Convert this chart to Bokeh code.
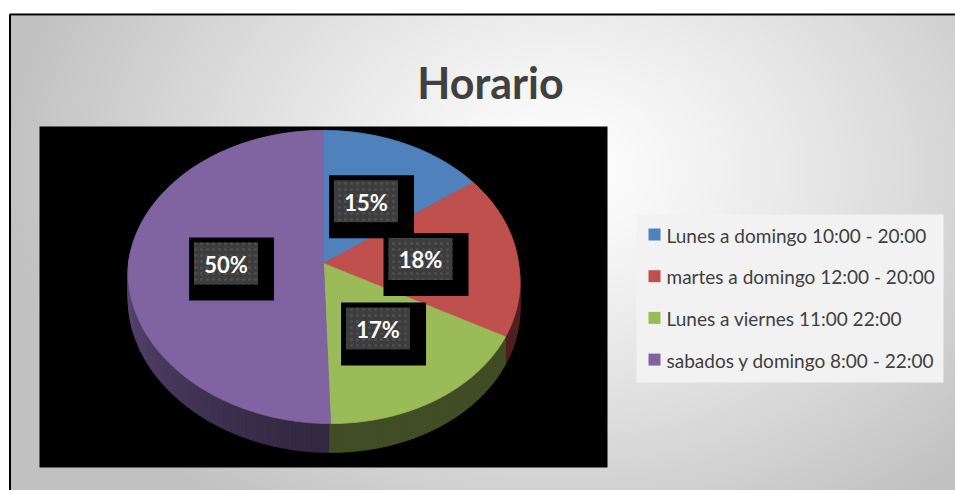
import numpy as np
from bokeh.plotting import figure
from bokeh.models import Range1d
from bokeh.core.properties import value
from bokeh.embed import file_html
from bokeh.resources import INLINE

# ---------------- data ----------------
title_text = "Horario"
categories = [
    "Lunes a domingo 10:00 - 20:00",
    "martes a domingo 12:00 - 20:00",
    "Lunes a viernes 11:00 22:00",
    "sabados y domingo 8:00 - 22:00",
]
values = [15, 18, 17, 50]
colors = ["#4F81BD", "#C0504D", "#9BBB59", "#8064A2"]

# ---------------- layout helpers (screen px) ----------------
W, H = 955, 490
TOP_PX = H  # screen y of the data y = 0


def Y(sy):
    return TOP_PX - np.asarray(sy, dtype=float)


p = figure(width=W, height=H, x_range=Range1d(0, W), y_range=Range1d(0, H),
           output_backend="svg", toolbar_location=None, min_border=0)
p.axis.visible = False
p.grid.visible = False
p.outline_line_color = None
p.background_fill_color = "white"
p.border_fill_color = "white"

# slide background gradient
x0s, y0s = 10, 15
nx, ny = W - x0s, H - y0s
gx = np.arange(nx) + x0s + 0.5
gy = H - (np.arange(ny) + 0.5)  # row 0 is bottom
GX, GY = np.meshgrid(gx, gy)
d = np.sqrt(((GX - 560) / 560.0) ** 2 + ((GY - 170) / 420.0) ** 2)
v = (255 - 62 * np.clip(d, 0, 1) ** 1.2).astype(np.uint8)
img = np.empty((ny, nx), dtype=np.uint32)
view = img.view(dtype=np.uint8).reshape((ny, nx, 4))
view[..., 0] = v
view[..., 1] = v
view[..., 2] = v
view[..., 3] = 255
p.image_rgba(image=[img], x=x0s, y=Y(H), dw=nx, dh=ny)

# frame
p.line(x=[9.5, 9.5, W], y=Y([H, 14, 14]), line_color="black", line_width=2)

# black chart area
p.quad(left=39, right=607, top=Y(126), bottom=Y(467), fill_color="black", line_color=None)

# ---------------- 3D pie ----------------
CX, CY = 323.0, 263.0
RX, RY = 195.0, 145.3
PERSP = 0.0922
THICK = 26.3
SHEAR = 0.044


def proj(theta_deg, r=1.0, drop=0.0):
    t = np.radians(np.asarray(theta_deg, dtype=float))
    f = 1 + PERSP * r * np.cos(t)
    dx = RX * r * np.sin(t) / f
    dy = -RY * r * np.cos(t) / f
    x = CX + dx + SHEAR * np.maximum(dy, 0)
    y = CY + dy + drop / f
    return x, y


def shade(hexcol, k):
    hexcol = hexcol.lstrip("#")
    r, g, b = (int(hexcol[i:i + 2], 16) for i in (0, 2, 4))
    return "#%02x%02x%02x" % (int(r * k), int(g * k), int(b * k))


total = float(sum(values))
cum = np.concatenate([[0], np.cumsum(values)]) * 360.0 / total

# side walls (painter's order: far to near)
side_xs, side_ys, side_cols, side_depth = [], [], [], []
for i in range(len(values)):
    a0, a1 = cum[i], cum[i + 1]
    steps = np.arange(a0, a1, 1.0)
    for s in steps:
        e = min(s + 1.0, a1)
        th = np.linspace(s, e + 0.3, 3)
        tx, ty = proj(th)
        bx, by = proj(th[::-1], drop=THICK)
        mid = (s + e) / 2.0
        if 180 <= mid <= 270:
            k = 0.40 + 0.35 * ((mid - 180) / 90.0) ** 1.3
        elif mid > 270:
            k = 0.75
        else:
            k = 0.42
        side_xs.append(list(np.concatenate([tx, bx])))
        side_ys.append(list(Y(np.concatenate([ty, by]))))
        side_cols.append(shade(colors[i], k))
        side_depth.append(np.cos(np.radians(mid)))
order = np.argsort(side_depth)[::-1]
p.patches(xs=[side_xs[j] for j in order], ys=[side_ys[j] for j in order],
          fill_color=[side_cols[j] for j in order], line_color=[side_cols[j] for j in order],
          line_width=0.6)

# top face
top_xs, top_ys = [], []
for i in range(len(values)):
    th = np.linspace(cum[i], cum[i + 1], max(int((cum[i + 1] - cum[i]) * 2), 4))
    ex, ey = proj(th)
    top_xs.append([CX] + list(ex))
    top_ys.append(list(Y([CY] + list(ey))))
p.patches(xs=top_xs, ys=top_ys, fill_color=colors, line_color=colors, line_width=0.8)

# data labels (placed at half radius on each slice's mid-angle)
lx, ly, ltxt = [], [], []
for i in range(len(values)):
    mid = (cum[i] + cum[i + 1]) / 2.0
    tx, ty = proj(mid, r=0.5)
    lx.append(float(tx))
    ly.append(float(ty))
    ltxt.append("%d%%" % round(values[i] * 100 / total))
lx = np.array(lx)
ly = np.array(ly)
p.quad(left=lx - 37, right=lx + 48, top=Y(ly - 26), bottom=Y(ly + 37),
       fill_color="black", line_color=None)
p.quad(left=lx - 32, right=lx + 32, top=Y(ly - 21), bottom=Y(ly + 21),
       fill_color="#3d3d3d", line_color=None,
       hatch_pattern="dot", hatch_color="#4f4f4f", hatch_scale=6, hatch_weight=1)
p.text(x=lx, y=Y(ly + 1), text=ltxt, text_font=value("Lato"), text_font_style="bold",
       text_font_size="22px", text_color="white", text_align="center", text_baseline="middle")

# title
p.text(x=[490], y=Y([82]), text=[title_text], text_font=value("Lato"), text_font_style="bold",
       text_font_size="43px", text_color="#404040", text_align="center",
       text_baseline="alphabetic")

# legend
p.quad(left=636, right=943, top=Y(214), bottom=Y(382), fill_color="#f2f2f2", line_color=None)
rows = 234 + 41.7 * np.arange(len(categories))
p.rect(x=[654] * len(categories), y=Y(rows), width=12, height=12,
       fill_color=colors, line_color=None)
p.text(x=[666] * len(categories), y=Y(rows + 0.5), text=categories, text_font=value("Lato"),
       text_font_size="19px", text_color="#404040", text_align="left", text_baseline="middle")

open("out.html", "w").write(file_html(p, INLINE))
